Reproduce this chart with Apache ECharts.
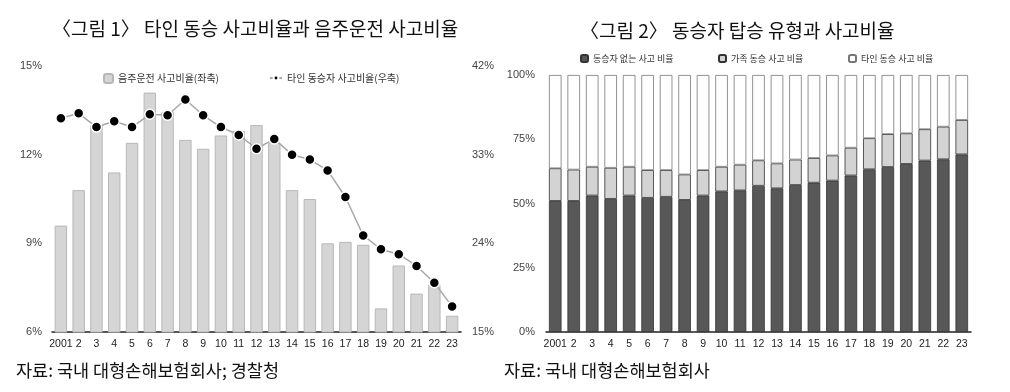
<!DOCTYPE html>
<html><head><meta charset="utf-8">
<script src="https://cdn.jsdelivr.net/npm/echarts@6/dist/echarts.min.js"></script>
<style>html,body{margin:0;padding:0;background:#fff}#c{width:1010px;height:392px}</style>
</head><body><div id="c"></div>
<script>
const years = ['2001','2','3','4','5','6','7','8','9','10','11','12','13','14','15','16','17','18','19','20','21','22','23'];
// Figure 1
const drunkRate = [9.6,10.8,13.0,11.4,12.4,14.1,13.45,12.5,12.2,12.65,12.8,13.0,12.4,10.8,10.5,9.0,9.05,8.95,6.8,8.25,7.3,7.6,6.55];
const otherPassengerRate = [36.7,37.2,35.8,36.4,35.8,37.1,37.0,38.6,37.0,35.8,35.0,33.6,34.6,33.0,32.5,31.4,28.7,24.8,23.4,22.9,21.7,20.0,17.6];
const leftTicks = [6,15,3];   // min, max, interval
const rightTicks = [15,42,9];
// Figure 2
const noPassenger = [51.0,51.0,53.1,51.8,53.1,52.2,52.6,51.4,53.1,54.7,55.1,56.9,55.9,57.2,58.1,58.9,60.9,63.3,64.2,65.4,66.7,67.2,69.1];
const familyPassenger = [12.7,12.2,11.2,12.1,11.2,10.8,10.4,9.9,9.9,9.6,10.0,9.9,9.7,9.9,9.6,9.8,10.8,12.1,12.8,11.9,12.2,12.7,13.4];
const otherPassenger = [36.3,36.8,35.7,36.1,35.7,37.0,37.0,38.7,37.0,35.7,34.9,33.2,34.4,32.9,32.3,31.3,28.3,24.6,23.0,22.7,21.1,20.1,17.5];

const names = {
  drunk:'음주운전 사고비율(좌축)', other:'타인 동승자 사고비율(우축)',
  s1:'동승자 없는 사고 비율', s2:'가족 동승 사고 비율', s3:'타인 동승 사고 비율'
};
const KR = '"Noto Sans CJK KR", sans-serif';
const NUM = '"Liberation Sans Narrow", "Liberation Sans", Arial, sans-serif';

const chart = echarts.init(document.getElementById('c'), null, {renderer:'canvas'});
const axisLab = {fontFamily:NUM, fontSize:11, color:'#444'};
const xLab = {fontFamily:NUM, fontSize:10.5, color:'#222', margin:7, interval:0};
chart.setOption({
  backgroundColor:'#fff',
  animation:false,
  title:[
    {text:'〈그림 1〉 타인 동승 사고비율과 음주운전 사고비율', left:47, top:14, textStyle:{fontFamily:KR, fontSize:19, fontWeight:'normal', color:'#111'}},
    {text:'〈그림 2〉 동승자 탑승 유형과 사고비율', left:575, top:16, textStyle:{fontFamily:KR, fontSize:19, fontWeight:'normal', color:'#111'}},
    {text:'자료: 국내 대형손해보험회사; 경찰청', left:11, top:357, textStyle:{fontFamily:KR, fontSize:17.5, fontWeight:'normal', color:'#111'}},
    {text:'자료: 국내 대형손해보험회사', left:499, top:357, textStyle:{fontFamily:KR, fontSize:17.5, fontWeight:'normal', color:'#111'}}
  ],
  legend:[
    {data:[names.drunk], left:98, top:68, itemWidth:9, itemHeight:9, itemGap:6, textStyle:{fontFamily:KR, fontSize:10, color:'#333'}},
    {data:[names.other], left:264, top:68, itemWidth:12, itemHeight:6, textStyle:{fontFamily:KR, fontSize:10, color:'#333'}},
    {data:[names.s1], left:575, top:49, itemWidth:7, itemHeight:7, itemGap:6, textStyle:{fontFamily:KR, fontSize:9, color:'#333'}},
    {data:[names.s2], left:713, top:49, itemWidth:7, itemHeight:7, itemGap:6, textStyle:{fontFamily:KR, fontSize:9, color:'#333'}},
    {data:[names.s3], left:843, top:49, itemWidth:7, itemHeight:7, itemGap:6, textStyle:{fontFamily:KR, fontSize:9, color:'#333'}}
  ],
  grid:[
    {left:52, top:66, width:409, height:266},
    {left:546, top:75, width:425, height:257}
  ],
  xAxis:[
    {type:'category', gridIndex:0, data:years, axisTick:{show:false},
     axisLine:{lineStyle:{color:'#222', width:1.5}}, axisLabel:xLab},
    {type:'category', gridIndex:1, data:years, axisTick:{show:false},
     axisLine:{lineStyle:{color:'#222', width:1.5}}, axisLabel:xLab}
  ],
  yAxis:[
    {type:'value', gridIndex:0, min:leftTicks[0], max:leftTicks[1], interval:leftTicks[2], splitLine:{show:false},
     axisLine:{show:false}, axisTick:{show:false}, axisLabel:Object.assign({formatter:'{value}%', margin:10}, axisLab)},
    {type:'value', gridIndex:0, position:'right', min:rightTicks[0], max:rightTicks[1], interval:rightTicks[2], splitLine:{show:false},
     axisLine:{show:false}, axisTick:{show:false}, axisLabel:Object.assign({formatter:'{value}%', margin:11}, axisLab)},
    {type:'value', gridIndex:1, min:0, max:100, interval:25, splitLine:{show:false},
     axisLine:{show:false}, axisTick:{show:false}, axisLabel:Object.assign({formatter:'{value}%', margin:11}, axisLab)}
  ],
  series:[
    {name:names.drunk, type:'bar', xAxisIndex:0, yAxisIndex:0, data:drunkRate, barWidth:'70%',
     itemStyle:{color:'#d5d5d5', borderColor:'#b8b8b8', borderWidth:1}},
    {name:names.other, type:'line', xAxisIndex:0, yAxisIndex:1, data:otherPassengerRate,
     symbol:'circle', symbolSize:10, lineStyle:{color:'#a8a8a8', width:1.5},
     itemStyle:{color:'#000', borderColor:'#fff', borderWidth:1.5}},
    {name:names.s1, type:'bar', stack:'t', xAxisIndex:1, yAxisIndex:2, data:noPassenger, barWidth:'68%',
     itemStyle:{color:'#585858', borderColor:'#333', borderWidth:0.8}},
    {name:names.s2, type:'bar', stack:'t', xAxisIndex:1, yAxisIndex:2, data:familyPassenger, barWidth:'68%',
     itemStyle:{color:'#d3d3d3', borderColor:'#333', borderWidth:0.8}},
    {name:names.s3, type:'bar', stack:'t', xAxisIndex:1, yAxisIndex:2, data:otherPassenger, barWidth:'68%',
     itemStyle:{color:'#ffffff', borderColor:'#777', borderWidth:0.8}}
  ]
});
</script></body></html>
